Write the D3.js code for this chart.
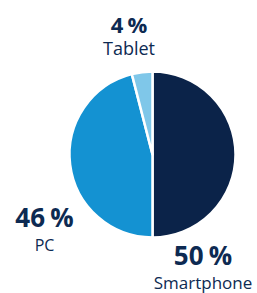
<!DOCTYPE html>
<html><head><meta charset="utf-8">
<script src="https://cdn.jsdelivr.net/npm/d3@7"></script>
<style>html,body{margin:0;padding:0;background:#fff;}svg{display:block;}</style>
</head><body>
<svg id="c" width="257" height="293"></svg>
<script>
const categories = ["Smartphone", "PC", "Tablet"];
const values = [50, 46, 4];
const valueLabels = ["50 %", "46 %", "4 %"];
const colors = ["#0b2349", "#1492d2", "#7fc7e9"];

const svg = d3.select("#c");
const cx = 152.5, cy = 154.5, r = 83;
const pie = d3.pie().sort(null).value(d => d)(values);
const arc = d3.arc().innerRadius(0).outerRadius(r);
const g = svg.append("g").attr("transform", `translate(${cx},${cy})`);
g.selectAll("path").data(pie).join("path")
  .attr("d", arc)
  .attr("fill", (d, i) => colors[i])
  .attr("stroke", "#fff").attr("stroke-width", 2.5).attr("stroke-linejoin", "round");

const txt = "#0d2a52";
const font = "'Open Sans', sans-serif";
const labelPos = [
  {x: 203, yv: 265, yn: 289, fv: 26, fn: 17},
  {x: 44.5, yv: 227, yn: 251, fv: 26, fn: 16},
  {x: 129, yv: 32.5, yn: 55, fv: 22, fn: 18}
];
categories.forEach((c, i) => {
  const p = labelPos[i];
  svg.append("text").attr("x", p.x).attr("y", p.yv).attr("text-anchor", "middle")
    .attr("font-family", font).attr("font-weight", 700).attr("font-size", p.fv)
    .attr("word-spacing", -1.5)
    .attr("fill", txt).text(valueLabels[i]);
  svg.append("text").attr("x", p.x).attr("y", p.yn).attr("text-anchor", "middle")
    .attr("font-family", font).attr("font-size", p.fn)
    .attr("fill", txt).text(c);
});
</script>
</body></html>
